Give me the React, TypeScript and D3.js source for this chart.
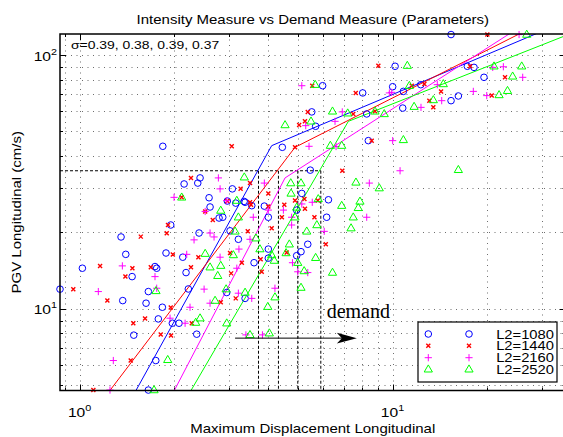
import React from 'react';
import * as d3 from 'd3';

type P = [number, number];

// ---- data (demand x, intensity y) ----
const l2_1080: P[] = [[1.845,43.7],[2.158,31.05],[2.427,32.8],[2.386,31.3],[2.593,27.4],[2.612,25.2],[2.966,26.6],[2.791,22.8],[2.868,22.96],[1.956,21.4],[1.357,19.2],[2.409,19.9],[1.405,16.4],[1.889,16.6],[2.137,15.98],[1.021,14.46],[1.742,14.68],[1.764,14.46],[1.472,13.4],[2.189,13.9],[0.866,11.96],[1.374,10.78],[1.659,11.7],[1.631,10.53],[1.839,10.15],[2.226,11.98],[2.953,11.6],[1.785,9.13],[1.979,8.78],[2.079,8.78],[1.49,7.88],[2.368,7.95],[1.752,6.26],[1.659,4.79],[10.19,90.3],[15.38,120.4],[5.98,75.7],[8.03,70.9],[10.01,75.0],[5.52,59.7],[8.27,58.6],[5.68,52.4],[4.445,43.3],[8.37,46.0],[5.46,35.2],[3.077,29.7],[5.13,28.5],[6.24,26.9],[3.38,26.3],[3.55,25.5],[3.894,25.4],[3.155,26.1],[3.355,26.5],[17.34,90.3],[18.21,89.4],[19.6,81.7],[12.31,76.4],[10.83,71.9],[15.38,66.1],[16.23,68.97],[10.78,61.8],[4.01,22.96],[4.94,24.5],[6.16,22.96],[3.026,20.3],[3.217,18.8],[5.36,17.97],[3.61,15.2],[4.01,17.2],[4.01,15.84],[4.94,16.2],[5.10,16.8],[3.38,11.0]];
const l2_1440: P[] = [[2.27,32.8],[2.12,27.5],[2.52,24.2],[2.665,22.4],[1.917,21.4],[1.569,19.26],[1.899,19.86],[1.986,16.36],[2.397,15.98],[1.163,14.77],[1.475,14.46],[1.689,14.59],[1.401,13.4],[2.27,14.59],[0.955,11.96],[1.227,10.78],[2.826,10.63],[1.956,10.12],[1.619,9.16],[1.485,8.78],[2.283,8.78],[1.817,7.92],[1.96,7.85],[1.457,6.26],[1.107,4.79],[2.966,26.6],[9.01,90.8],[20.09,120.4],[5.54,75.7],[7.63,70.9],[5.36,59.7],[7.49,58.6],[8.79,60.0],[5.03,53.0],[5.25,54.8],[3.064,43.7],[4.88,43.3],[8.58,46.0],[6.91,35.0],[3.505,31.3],[3.27,29.7],[4.01,28.5],[5.23,27.1],[3.505,26.3],[3.53,25.7],[4.01,25.3],[4.51,25.7],[4.88,26.7],[5.77,26.7],[5.25,24.8],[17.69,90.3],[22.88,81.7],[11.52,75.7],[12.64,76.9],[14.29,71.9],[13.11,66.1],[20.75,69.2],[13.5,62.2],[4.43,22.96],[5.63,22.96],[3.447,20.2],[4.11,20.8],[6.12,17.97],[3.026,16.6],[3.30,15.2],[3.79,15.7],[4.59,16.67],[3.05,13.8],[3.82,14.0],[3.155,11.0]];
const l2_2160: P[] = [[2.777,32.8],[2.812,29.7],[2.004,27.5],[2.52,24.2],[2.612,19.9],[2.322,18.7],[2.69,19.2],[2.2,16.4],[2.812,15.98],[1.37,14.77],[1.742,13.4],[1.148,11.7],[1.764,12.06],[2.5,11.96],[2.254,10.15],[2.612,10.53],[1.946,9.19],[2.174,8.78],[1.282,6.26],[1.251,4.79],[5.13,75.7],[9.77,70.9],[6.91,59.7],[6.55,54.8],[5.28,52.7],[5.41,43.7],[6.6,43.6],[10.01,46.0],[3.894,31.3],[8.43,31.3],[2.953,26.7],[4.48,24.5],[5.13,25.9],[5.54,26.3],[25.37,120.4],[20.9,89.4],[22.6,89.9],[26.06,81.7],[13.9,76.4],[9.94,71.3],[14.36,66.1],[18.12,71.9],[20.0,69.2],[12.33,62.2],[10.57,35.0],[3.59,22.96],[4.76,22.96],[8.27,22.96],[3.505,18.8],[4.76,21.4],[6.05,20.2],[3.23,17.2],[4.79,15.2],[3.18,14.46],[4.98,14.0],[5.36,13.9],[3.217,11.53],[3.55,11.0],[4.21,12.06],[3.40,7.9],[3.84,7.9],[4.01,24.5]];
const l2_2520: P[] = [[2.12,27.5],[2.826,24.4],[2.52,16.5],[2.612,14.59],[2.826,14.8],[2.764,13.5],[1.755,11.77],[2.71,10.78],[2.94,11.96],[2.35,8.83],[2.427,9.19],[2.953,8.78],[1.913,6.3],[1.73,4.79],[5.66,76.4],[6.43,60.0],[7.19,58.96],[8.79,60.0],[9.41,58.6],[4.535,53.0],[5.49,54.8],[6.33,43.96],[6.88,43.96],[3.36,33.0],[4.73,31.3],[5.10,31.3],[7.64,31.5],[9.07,29.9],[4.74,28.5],[5.79,27.1],[7.87,26.5],[3.18,26.7],[4.94,25.1],[6.88,25.5],[7.77,25.0],[26.84,120.4],[11.15,90.8],[21.1,90.3],[25.87,90.3],[24.2,82.4],[11.32,75.7],[14.53,76.9],[13.5,66.5],[21.9,69.6],[23.3,72.3],[11.72,62.6],[10.83,46.3],[16.23,35.3],[3.217,22.96],[4.88,22.96],[7.49,22.96],[7.37,20.8],[3.14,20.2],[3.66,18.98],[5.32,20.2],[5.73,21.4],[4.68,17.97],[3.10,16.3],[3.77,17.2],[4.11,16.3],[4.19,15.5],[4.57,16.6],[4.98,15.2],[5.68,15.9],[5.22,14.1],[6.43,13.9],[3.38,11.6],[4.21,11.12],[5.10,12.13],[3.995,10.2],[3.505,7.9],[4.04,8.02]];

// bilinear fits (log-log)
const fit_1080: P[] = [[1.475,4.5],[4.11,43.95],[30,124]];
const fit_1440: P[] = [[1.206,4.5],[4.88,43.3],[27,125.8]];
const fit_2160: P[] = [[1.959,4.5],[4.535,32.8],[25,126.8]];
const fit_2520: P[] = [[2.208,4.5],[7.225,54.8],[40,126]];

const seriesNames = ['L2=1080', 'L2=1440', 'L2=2160', 'L2=2520'];
const seriesColors = ['#0000ff', '#ff0000', '#ff00ff', '#00ff00'];
const seriesMarkers = ['circle', 'x', 'plus', 'triangle'];
const sigmas = ['0.39', '0.38', '0.39', '0.37'];

const imLevel = 35;
const demandAtIM = [3.73, 4.32, 4.98, 5.9];
const arrowFrom: P = [3.14, 7.67];
const arrowTo: P = [7.69, 7.67];
const demandLabelAt: P = [6.16, 9.19];

const xDomain: P = [0.866, 35.7];
const yDomain: P = [4.77, 121];
const xGridValues = [0.9, 1, 2, 3, 4, 5, 6, 7, 8, 9, 10, 20, 30];
const yGridValues = [5, 6, 7, 8, 9, 10, 20, 30, 40, 50, 60, 70, 80, 90, 100];
const xMajor = [1, 10];
const yMajor = [10, 100];
const xTickExp = ['0', '1'];
const yTickExp = ['1', '2'];

const W = 563, H = 437;
const L = 60, R = 565.5, T = 34, B = 390.5;
const FONT = '"Liberation Sans", Arial, Helvetica, sans-serif';
const HX = 1.2;

function HText(props: { x: number; y: number; size: number; anchor?: string; rotate?: number; children: any }) {
  const { x, y, size, anchor = 'start', rotate = 0, children } = props;
  return (
    <text transform={`translate(${x},${y}) rotate(${rotate}) scale(${HX},1)`} fontSize={size}
      textAnchor={anchor} fontFamily={FONT} fill="#000">{children}</text>
  );
}

function Marker({ kind, color, x, y }: { kind: string; color: string; x: number; y: number }) {
  const t = `translate(${x},${y})`;
  if (kind === 'circle') return <circle cx={x} cy={y} r={3.3} fill="none" stroke={color} strokeWidth={1} />;
  if (kind === 'x') return <path transform={t} d="M-2,-2L2,2M-2,2L2,-2" stroke={color} strokeWidth={1.4} fill="none" />;
  if (kind === 'plus') return <path transform={t} d="M-3.6,0H3.6M0,-3.6V3.6" stroke={color} strokeWidth={1} fill="none" />;
  return <path transform={t} d="M0,-4.4L4.1,2.7L-4.1,2.7Z" stroke={color} strokeWidth={1} fill="none" />;
}

export default function App() {
  const x = d3.scaleLog().domain(xDomain).range([L, R]);
  const y = d3.scaleLog().domain(yDomain).range([B, T]);
  const series = [l2_1080, l2_1440, l2_2160, l2_2520];
  const fits = [fit_1080, fit_1440, fit_2160, fit_2520];
  const line = d3.line<P>().x(d => x(d[0])).y(d => y(d[1]));
  const legendRows = [334, 345.7, 357.7, 369.3];
  const yIM = y(imLevel);
  const ax = x(arrowTo[0]);
  const ay = y(arrowTo[1]);

  return (
    <svg width={W} height={H} style={{ position: 'absolute', left: 0, top: 0, background: '#fff' }}>
      <defs>
        <clipPath id="plotClip"><rect x={L} y={T} width={R - L} height={B - T} /></clipPath>
      </defs>
      <rect x={0} y={0} width={W} height={H} fill="#fff" />
      {/* grid */}
      <g stroke="#6e6e6e" strokeWidth={1} strokeDasharray="1,4.5">
        {xGridValues.map(v => <line key={'gx' + v} x1={Math.round(x(v)) + 0.5} x2={Math.round(x(v)) + 0.5} y1={T} y2={B} />)}
        {yGridValues.map(v => <line key={'gy' + v} x1={L} x2={R} y1={Math.round(y(v)) + 0.5} y2={Math.round(y(v)) + 0.5} />)}
      </g>
      {/* ticks */}
      <g stroke="#000" strokeWidth={1}>
        {xGridValues.map(v => {
          const len = xMajor.includes(v) ? 6 : 3;
          const px = Math.round(x(v)) + 0.5;
          return <g key={'tx' + v}><line x1={px} x2={px} y1={B} y2={B - len} /><line x1={px} x2={px} y1={T} y2={T + len} /></g>;
        })}
        {yGridValues.map(v => {
          const len = yMajor.includes(v) ? 6 : 3;
          const py = Math.round(y(v)) + 0.5;
          return <g key={'ty' + v}><line x1={L} x2={L + len} y1={py} y2={py} /><line x1={R} x2={R - len} y1={py} y2={py} /></g>;
        })}
      </g>
      {/* demand dashed lines */}
      <g stroke="#000" strokeWidth={1} strokeDasharray="3,2" fill="none">
        <line x1={L} x2={x(d3.max(demandAtIM) as number)} y1={yIM} y2={yIM} />
        {demandAtIM.map((d, i) => <line key={'dv' + i} x1={x(d)} x2={x(d)} y1={yIM} y2={B} />)}
      </g>
      {/* fitted lines */}
      <g clipPath="url(#plotClip)" fill="none" strokeWidth={1}>
        {fits.map((f, i) => <path key={'fit' + i} d={line(f) as string} stroke={seriesColors[i]} />)}
      </g>
      {/* scatter */}
      {series.map((s, i) => (
        <g key={'s' + i}>
          {s.map((p, j) => <Marker key={j} kind={seriesMarkers[i]} color={seriesColors[i]} x={x(p[0])} y={y(p[1])} />)}
        </g>
      ))}
      {/* frame */}
      <rect x={L} y={T} width={R - L} height={B - T} fill="none" stroke="#000" strokeWidth={1.5} />
      {/* demand arrow */}
      <line x1={x(arrowFrom[0])} x2={ax - 14} y1={y(arrowFrom[1])} y2={ay} stroke="#000" strokeWidth={1} />
      <path d={`M${ax},${ay}L${ax - 20},${ay - 5.3}L${ax - 15},${ay}L${ax - 20},${ay + 5.3}Z`} fill="#000" />
      <text x={x(demandLabelAt[0])} y={y(demandLabelAt[1])} fontSize={20} fontFamily='"Liberation Serif", "Times New Roman", serif' fill="#000">demand</text>
      {/* sigma text */}
      <HText x={71} y={49} size={11.6}>{'σ=' + sigmas.join(', ')}</HText>
      {/* legend */}
      <rect x={418} y={322} width={139} height={60} fill="#fff" stroke="#000" strokeWidth={1.2} />
      {seriesNames.map((n, i) => (
        <g key={'lg' + i}>
          <Marker kind={seriesMarkers[i]} color={seriesColors[i]} x={428.3} y={legendRows[i]} />
          <Marker kind={seriesMarkers[i]} color={seriesColors[i]} x={469} y={legendRows[i]} />
          <HText x={554} y={legendRows[i] + 4.7} size={12.3} anchor="end">{n}</HText>
        </g>
      ))}
      {/* tick labels */}
      {xMajor.map((v, i) => (
        <HText key={'xl' + v} x={x(v)} y={417} size={13} anchor="middle">10<tspan dy={-6} fontSize={9}>{xTickExp[i]}</tspan></HText>
      ))}
      {yMajor.map((v, i) => (
        <HText key={'yl' + v} x={57} y={y(v) + 5.5} size={13} anchor="end">10<tspan dy={-6} fontSize={9}>{yTickExp[i]}</tspan></HText>
      ))}
      {/* titles */}
      <HText x={(L + R) / 2} y={24} size={12.5} anchor="middle">Intensity Measure vs Demand Measure (Parameters)</HText>
      <HText x={(L + R) / 2} y={433} size={12.5} anchor="middle">Maximum Displacement Longitudinal</HText>
      <HText x={21} y={(T + B) / 2} size={12.5} anchor="middle" rotate={-90}>PGV Longitudinal (cm/s)</HText>
    </svg>
  );
}
